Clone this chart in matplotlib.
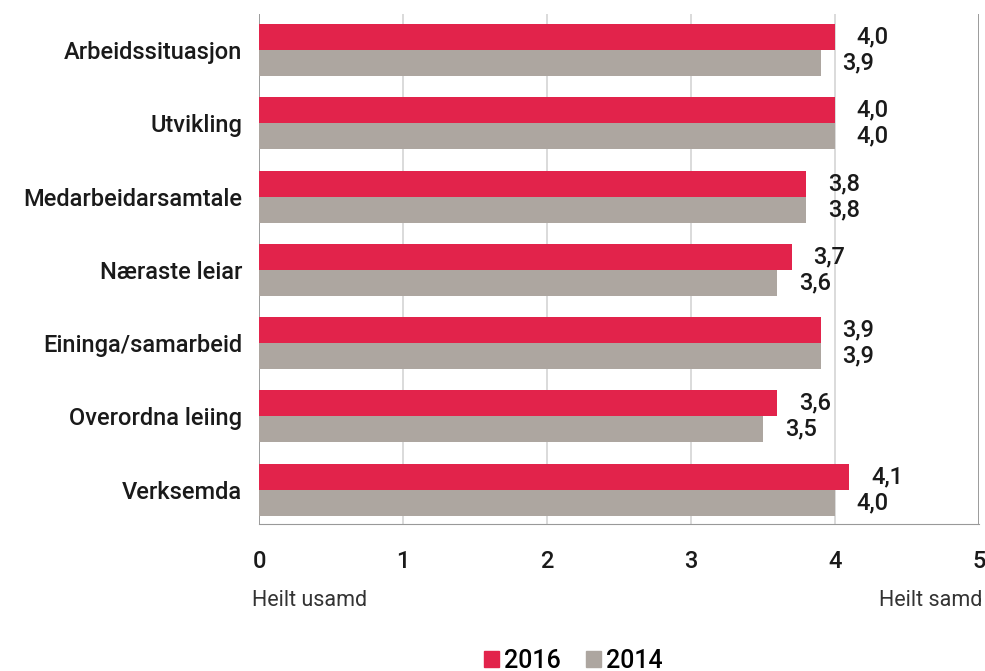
import matplotlib.pyplot as plt
import numpy as np
from matplotlib.patches import Patch

# Medarbeidarundersøking: snitt per tema, 2016 mot 2014
categories = ["Arbeidssituasjon", "Utvikling", "Medarbeidarsamtale", "Næraste leiar",
              "Eininga/samarbeid", "Overordna leiing", "Verksemda"]
v2016 = [4.0, 4.0, 3.8, 3.7, 3.9, 3.6, 4.1]
v2014 = [3.9, 4.0, 3.8, 3.6, 3.9, 3.5, 4.0]
xticks = [0, 1, 2, 3, 4, 5]

red = '#E2234B'
grey = '#ADA6A0'
txt = '#1a1a1a'
plt.rcParams['font.family'] = ['Roboto', 'DejaVu Sans']

fig = plt.figure(figsize=[9.85, 6.71], dpi=100)
ax = fig.add_axes([0.263, 0.219, 0.731, 0.760])

y = np.arange(len(categories))
h = 0.355
ax.barh(y - h/2, v2016, height=h, color=red, zorder=3)
ax.barh(y + h/2, v2014, height=h, color=grey, zorder=3)

for yi, a, b in zip(y, v2016, v2014):
    ax.text(a + 0.15, yi - h/2, f"{a:.1f}".replace('.', ','), va='center', ha='left',
            fontsize=17, fontweight='medium', color=txt)
    ax.text(b + 0.15, yi + h/2, f"{b:.1f}".replace('.', ','), va='center', ha='left',
            fontsize=17, fontweight='medium', color=txt)

ax.set_xlim(0, 5)
ax.set_ylim(6.47, -0.49)
ax.set_yticks(y)
ax.set_yticklabels(categories, fontsize=17, fontweight='medium', color=txt)
ax.set_xticks(xticks)
ax.set_xticklabels([str(t) for t in xticks], fontsize=17, fontweight='medium', color=txt)
ax.tick_params(axis='both', length=0)
ax.tick_params(axis='x', pad=19)
ax.tick_params(axis='y', pad=12)

for s in ['top', 'right', 'left']:
    ax.spines[s].set_visible(False)
ax.spines['bottom'].set_color('#999999')
for t in xticks:
    c = '#8a8a8a' if t in (0, 5) else '#d4d4d4'
    ax.axvline(t, color=c, lw=1.2, zorder=1)

ax.text(-0.05, -0.15, "Heilt usamd", transform=ax.get_xaxis_transform(), ha='left', va='center',
        fontsize=15.5, color='#333333')
ax.text(5.02, -0.15, "Heilt samd", transform=ax.get_xaxis_transform(), ha='right', va='center',
        fontsize=15.5, color='#333333')

handles = [Patch(color=red, label='2016'), Patch(color=grey, label='2014')]
fig.legend(handles=handles, loc='center', bbox_to_anchor=(0.582, 0.015), ncol=2, frameon=False,
           prop={'size': 18, 'weight': 'medium'}, handlelength=0.6, handleheight=0.6,
           handletextpad=0.2, columnspacing=1.0)

plt.savefig('out.png', dpi=100)
plt.close(fig)
